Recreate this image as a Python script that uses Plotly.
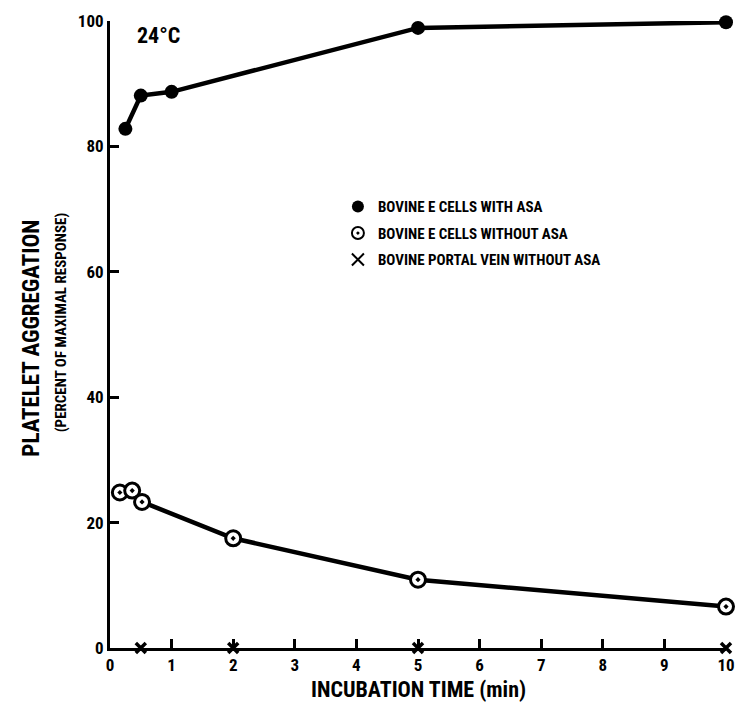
import plotly.graph_objects as go

# Data
t_with = [0.25, 0.5, 1, 5, 10]
agg_with = [82.8, 88.1, 88.7, 98.9, 99.8]

t_without = [0.16, 0.36, 0.52, 2, 5, 10]
agg_without = [24.8, 25.1, 23.3, 17.5, 10.9, 6.6]

t_vein = [0.5, 2, 5, 10]
agg_vein = [0, 0, 0, 0]

x_ticks = [0, 1, 2, 3, 4, 5, 6, 7, 8, 9, 10]
y_ticks = [0, 20, 40, 60, 80, 100]

FONT = "Liberation Sans Narrow, Arial Narrow, Roboto Condensed, Roboto, sans-serif"
BLACK = "#000000"

fig = go.Figure()

# connecting lines
fig.add_trace(go.Scatter(x=t_with, y=agg_with, mode="lines",
                         line=dict(color=BLACK, width=4.5), showlegend=False,
                         cliponaxis=False, hoverinfo="skip"))
fig.add_trace(go.Scatter(x=t_without, y=agg_without, mode="lines",
                         line=dict(color=BLACK, width=4.5), showlegend=False,
                         cliponaxis=False, hoverinfo="skip"))

# markers (also used for legend)
fig.add_trace(go.Scatter(x=t_with, y=agg_with, mode="markers",
                         name="<b>BOVINE E CELLS WITH ASA</b>", legendgroup="a",
                         marker=dict(symbol="circle", size=14, color=BLACK),
                         cliponaxis=False))
fig.add_trace(go.Scatter(x=t_without, y=agg_without, mode="markers",
                         name="<b>BOVINE E CELLS WITHOUT ASA</b>", legendgroup="b",
                         marker=dict(symbol="circle-dot", size=15, color="white",
                                     line=dict(color=BLACK, width=3)),
                         cliponaxis=False))
fig.add_trace(go.Scatter(x=t_vein, y=agg_vein, mode="markers",
                         name="<b>BOVINE PORTAL VEIN WITHOUT ASA</b>", legendgroup="c",
                         marker=dict(symbol="x-thin", size=10, color=BLACK,
                                     line=dict(color=BLACK, width=3.5)),
                         cliponaxis=False))

fig.update_layout(
    width=746, height=717,
    margin=dict(l=110, r=11, t=20, b=69),
    paper_bgcolor="white", plot_bgcolor="white",
    font=dict(family=FONT, color=BLACK),
    showlegend=True,
    legend=dict(x=0.37, y=0.73, xanchor="left", yanchor="top",
                bgcolor="rgba(0,0,0,0)", tracegroupgap=4,
                font=dict(family=FONT, size=15, color=BLACK),
                itemsizing="constant"),
    xaxis=dict(range=[0, 10], tickvals=x_ticks, ticktext=[f"<b>{v}</b>" for v in x_ticks],
               showgrid=False, zeroline=False, showline=True, linecolor=BLACK,
               linewidth=3, ticks="inside", ticklen=9, tickwidth=2.5, tickcolor=BLACK,
               tickfont=dict(family=FONT, size=17, color=BLACK), fixedrange=True),
    yaxis=dict(range=[0, 100], tickvals=y_ticks, ticktext=[f"<b>{v}</b>" for v in y_ticks],
               showgrid=False, zeroline=False, showline=True, linecolor=BLACK,
               linewidth=3, ticks="inside", ticklen=9, tickwidth=2.5, tickcolor=BLACK,
               tickfont=dict(family=FONT, size=17, color=BLACK), fixedrange=True),
)

# Text annotations placed via paper coordinates
W, H = 746, 717
l, r, t, b = 110, 11, 20, 69
pw, ph = W - l - r, H - t - b

def px_to_paper(px, py):
    return (px - l) / pw, (H - b - py) / ph

p = px_to_paper(135, 35)
fig.add_annotation(text="<b>24°C</b>", x=p[0], y=p[1], xref="paper", yref="paper",
                   xanchor="left", yanchor="middle", showarrow=False,
                   font=dict(family=FONT, size=22, color=BLACK))
xt = px_to_paper(423, 690)
fig.add_annotation(text="<b>INCUBATION TIME (min)</b>", x=xt[0], y=xt[1],
                   xref="paper", yref="paper", showarrow=False,
                   xanchor="center", yanchor="middle",
                   font=dict(family=FONT, size=22, color=BLACK))
y1 = px_to_paper(30, 338)
fig.add_annotation(text="<b>PLATELET AGGREGATION</b>", x=y1[0], y=y1[1],
                   xref="paper", yref="paper", showarrow=False, textangle=-90,
                   xanchor="center", yanchor="middle",
                   font=dict(family=FONT, size=23, color=BLACK))
y2 = px_to_paper(60, 322)
fig.add_annotation(text="<b>(PERCENT OF MAXIMAL RESPONSE)</b>", x=y2[0], y=y2[1],
                   xref="paper", yref="paper", showarrow=False, textangle=-90,
                   xanchor="center", yanchor="middle",
                   font=dict(family=FONT, size=15, color=BLACK))

fig.write_html("out.html")
